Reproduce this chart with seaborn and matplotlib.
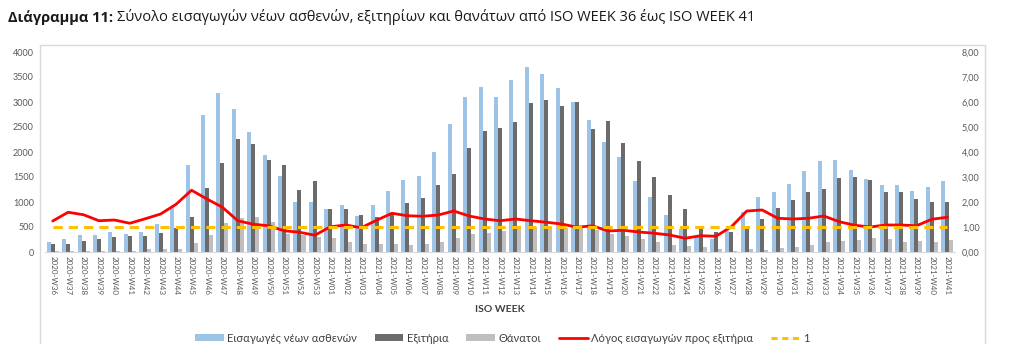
import numpy as np
import pandas as pd
import matplotlib
matplotlib.use("Agg")
import matplotlib.pyplot as plt
import seaborn as sns
from matplotlib.patches import Patch, Rectangle
from matplotlib.lines import Line2D

# ---------------- data ----------------
weeks_2020 = [f"2020-W{w}" for w in range(36, 54)]
weeks_2021 = [f"2021-W{w:02d}" for w in range(1, 42)]
weeks = weeks_2020 + weeks_2021

admissions = [207, 260, 333, 333, 393, 360, 407, 570, 900, 1747, 2740, 3173, 2867, 2393, 1933, 1513, 1007, 993,
              853, 933, 715, 933, 1220, 1433, 1520, 1993, 2560, 3107, 3293, 3107, 3433, 3693, 3553, 3273, 3000,
              2633, 2193, 1893, 1415, 1093, 733, 470, 320, 270, 420, 800, 1093, 1207, 1367, 1620, 1820, 1833,
              1633, 1453, 1333, 1333, 1213, 1293, 1420]
discharges = [160, 160, 227, 253, 300, 313, 313, 373, 480, 700, 1273, 1780, 2267, 2153, 1833, 1747, 1233, 1420,
              853, 853, 750, 710, 790, 980, 1073, 1333, 1560, 2087, 2420, 2480, 2600, 2973, 3050, 2915, 3000,
              2470, 2615, 2173, 1823, 1497, 1133, 853, 480, 410, 410, 475, 653, 887, 1033, 1200, 1260, 1480,
              1493, 1440, 1207, 1207, 1053, 993, 1007]
deaths = [27, 15, 25, 30, 25, 30, 53, 53, 53, 173, 333, 573, 673, 693, 593, 370, 350, 300,
          273, 193, 153, 153, 153, 140, 167, 207, 273, 353, 373, 420, 487, 507, 507, 487, 507,
          440, 353, 327, 253, 207, 140, 113, 100, 60, 27, 53, 33, 87, 100, 133, 193, 227,
          240, 273, 253, 207, 220, 207, 240]
ratio = [1.24, 1.59, 1.49, 1.25, 1.28, 1.15, 1.33, 1.52, 1.91, 2.47, 2.12, 1.79, 1.25, 1.11, 1.05, 0.85, 0.79, 0.67,
         1.01, 1.08, 0.97, 1.27, 1.55, 1.45, 1.43, 1.48, 1.64, 1.44, 1.32, 1.25, 1.32, 1.25, 1.19, 1.12, 0.99,
         1.05, 0.84, 0.87, 0.80, 0.75, 0.68, 0.55, 0.65, 0.63, 1.01, 1.64, 1.68, 1.35, 1.32, 1.35, 1.44, 1.21,
         1.07, 1.00, 1.08, 1.08, 1.05, 1.31, 1.39]
reference_one = [1.0] * len(weeks)

bar_names = ["Εισαγωγές νέων ασθενών", "Εξιτήρια", "Θάνατοι"]
ratio_name = "Λόγος εισαγωγών προς εξιτήρια"
one_name = "1"
left_ticks = list(range(0, 4001, 500))
right_ticks = [0, 1, 2, 3, 4, 5, 6, 7, 8]

bar_colors = ["#9DC3E6", "#6B6B6B", "#BFBFBF"]
red = "#FF0000"
yellow = "#FFC000"
tick_color = "#595959"

# ---------------- style ----------------
sns.set_theme(style="white")
plt.rcParams["font.family"] = ["Lato", "Noto Sans", "DejaVu Sans"]

long_df = pd.DataFrame({
    "week": weeks * 3,
    "value": admissions + discharges + deaths,
    "series": [bar_names[0]] * len(weeks) + [bar_names[1]] * len(weeks) + [bar_names[2]] * len(weeks),
})
line_df = pd.DataFrame({"pos": np.arange(len(weeks)), "ratio": ratio, "one": reference_one})

W, H = 1019, 344
fig = plt.figure(figsize=(W / 100, H / 100), dpi=100)
ax = fig.add_axes([45 / W, 92 / H, 910 / W, 200 / H])

sns.barplot(data=long_df, x="week", y="value", hue="series", hue_order=bar_names,
            palette=bar_colors, width=0.78, linewidth=0, saturation=1, ax=ax, legend=False)

ax.set_ylim(0, 4000)
ax.set_xlim(-0.5, len(weeks) - 0.5)
ax.set_yticks(left_ticks)
ax.set_yticklabels([str(t) for t in left_ticks], fontsize=6.5, color=tick_color)
ax.set_xticks(np.arange(len(weeks)))
ax.set_xticklabels(weeks, rotation=-90, fontsize=5.8, color=tick_color)
ax.tick_params(axis="both", length=0, pad=3)
ax.tick_params(axis="y", pad=8)
ax.set_ylabel("")
ax.set_xlabel("ISO WEEK", fontsize=7.5, fontweight="bold", color="#404040", labelpad=7)
for s in ["top", "right", "left"]:
    ax.spines[s].set_visible(False)
ax.spines["bottom"].set_color("#D9D9D9")
ax.spines["bottom"].set_linewidth(0.8)

ax2 = ax.twinx()
sns.lineplot(data=line_df, x="pos", y="ratio", color=red, linewidth=2, ax=ax2)
sns.lineplot(data=line_df, x="pos", y="one", color=yellow, linewidth=2.2, ax=ax2,
             linestyle=(0, (3, 2)))
ax2.set_ylim(0, 8)
ax2.set_xlim(-0.5, len(weeks) - 0.5)
ax2.set_yticks(right_ticks)
ax2.set_yticklabels([f"{t:.2f}".replace(".", ",") for t in right_ticks], fontsize=6.5, color=tick_color)
ax2.tick_params(axis="y", length=0, pad=5)
ax2.set_ylabel("")
for s in ["top", "right", "left", "bottom"]:
    ax2.spines[s].set_visible(False)

# legend
handles = [Patch(facecolor=c, edgecolor="none") for c in bar_colors]
handles += [Line2D([0], [0], color=red, lw=2),
            Line2D([0], [0], color=yellow, lw=2.2, linestyle=(0, (2, 1.5)))]
labels = bar_names + [ratio_name, one_name]
fig.legend(handles, labels, loc="center", bbox_to_anchor=(502 / W, 1 - 338 / H), ncol=5,
           frameon=False, fontsize=8, handlelength=2.6, handleheight=0.5, columnspacing=1.6,
           handletextpad=0.3, labelcolor="#404040")

# chart border
fig.add_artist(Rectangle((40 / W, -0.05), 945 / W, 1 - 45 / H + 0.05, transform=fig.transFigure,
                         fill=False, edgecolor="#D9D9D9", linewidth=1, clip_on=False))

# title
t1 = fig.text(8 / W, 1 - 25 / H, "Διάγραμμα 11:", fontsize=10.5, fontweight="bold",
              family=["Open Sans", "DejaVu Sans"], va="bottom", color="#1a1a1a")
ax.annotate("Σύνολο εισαγωγών νέων ασθενών, εξιτηρίων και θανάτων από ISO WEEK 36 έως ISO WEEK 41",
            xy=(1, 0), xycoords=t1, xytext=(3, 0), textcoords="offset points",
            fontsize=10.5, family=["Open Sans", "DejaVu Sans"], va="bottom", ha="left",
            color="#1a1a1a", annotation_clip=False)

fig.savefig("out.png", dpi=100)
